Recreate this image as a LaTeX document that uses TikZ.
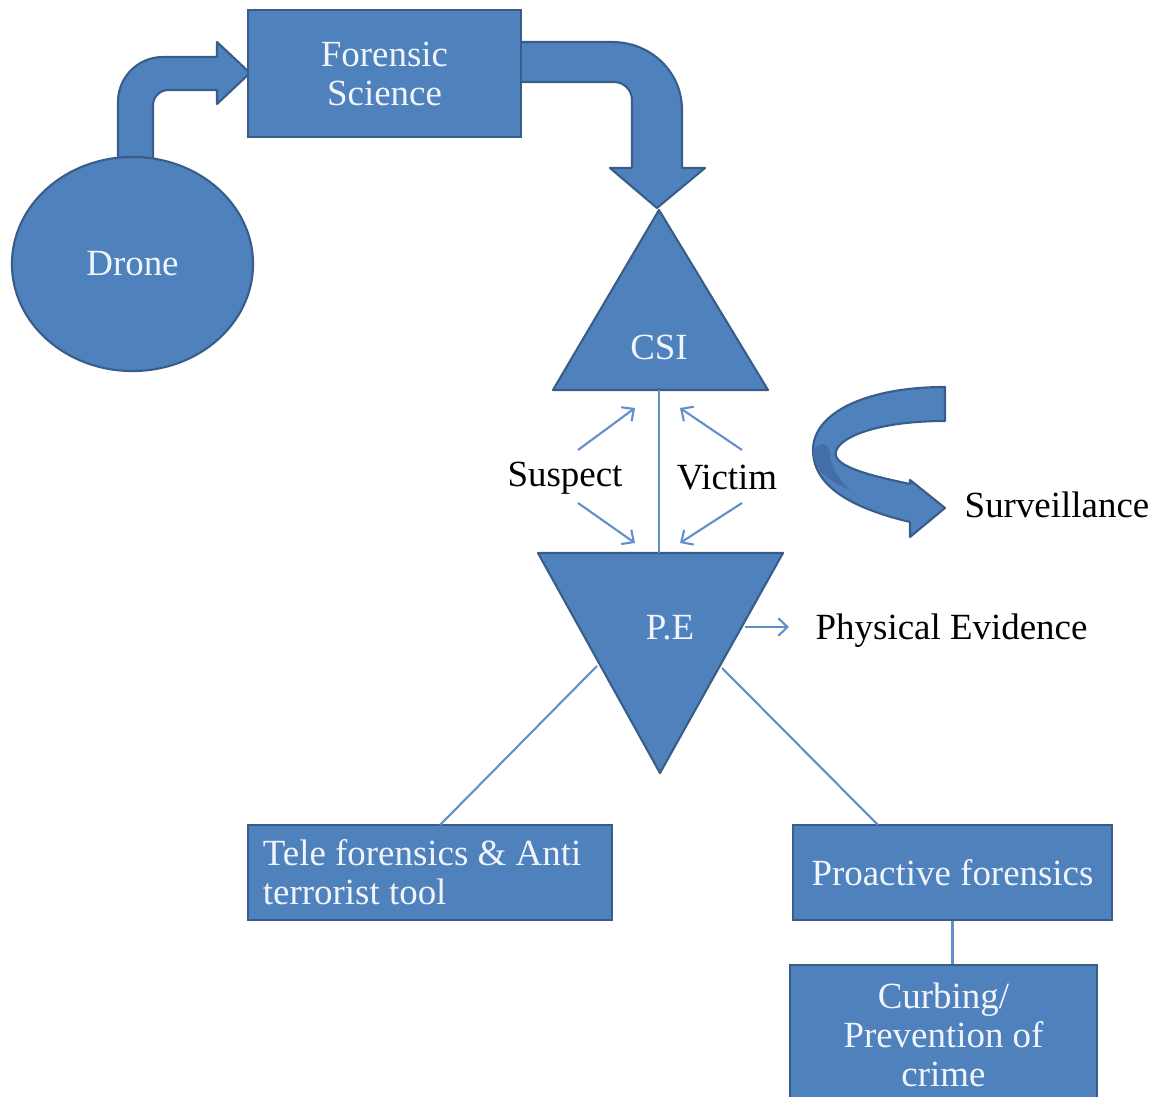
\documentclass[tikz,border=0pt]{standalone}
\usepackage{fontspec}
\setmainfont{Liberation Serif}
\usetikzlibrary{shapes.geometric,arrows.meta}
\definecolor{boxblue}{RGB}{79,129,189}
\definecolor{edgeblue}{RGB}{56,93,138}
\definecolor{shadeblue}{RGB}{66,111,168}
\definecolor{linkblue}{RGB}{98,143,204}
\definecolor{paletext}{RGB}{240,245,252}
\tikzset{
  wtext/.style={text=paletext, font=\fontsize{10.5}{11.1}\selectfont, inner sep=0pt},
  blk/.style={wtext, draw=edgeblue, fill=boxblue, line width=0.6pt},
  word/.style={text=black, font=\fontsize{10.5}{11.1}\selectfont, inner sep=0pt},
  link/.style={draw=linkblue, line width=0.6pt},
  tip/.style={-{Straight Barb[length=2.6pt,width=5pt]}},
  fat/.style={fill=boxblue, draw=edgeblue, line width=0.6pt, line join=round}
}
\begin{document}
\begin{tikzpicture}[x=0.01cm,y=-0.01cm]
\useasboundingbox (0,0) rectangle (1156,1097);
% bent arrows
\filldraw[fat] (118,160) -- (118,102) .. controls (118,77) and (138,57) .. (163,57) -- (217,57) -- (217,42) -- (250,73) -- (217,104) -- (217,90) -- (168,90) .. controls (160,90) and (153,97) .. (153,105) -- (153,160) -- cycle;
\filldraw[fat] (515,42) -- (612,42) .. controls (651,42) and (682,72) .. (682,110) -- (682,168) -- (705,168) -- (657,208) -- (610,168) -- (632,168) -- (632,100) .. controls (632,90) and (624,82) .. (614,82) -- (515,82) -- cycle;
\node[blk, ellipse, minimum width=2.41cm, minimum height=2.14cm] (drone) at (132.5,264) {Drone};
\node[blk, minimum width=2.73cm, minimum height=1.27cm, align=center] (fsci) at (384.5,73.5) {Forensic\\Science};
% triangles
\filldraw[fat] (659,210) -- (768,390) -- (553,390) -- cycle;
\node[wtext] (csi) at (659,347) {CSI};
\filldraw[fat] (538,553) -- (783,553) -- (660,773) -- cycle;
\node[wtext] (pe) at (670,628) {P.E};
\coordinate (csib) at (659,390);
\coordinate (pet) at (659,553);
\draw[link] (csib) -- (pet);
% suspect and victim
\node[word] (sus) at (565,478) {Suspect};
\node[word] (vic) at (727,478) {Victim};
\coordinate (sus-a) at (578,450); \coordinate (sus-b) at (635,408);
\coordinate (sus-c) at (578,503); \coordinate (sus-d) at (635,543);
\coordinate (vic-a) at (742,450); \coordinate (vic-b) at (680,408);
\coordinate (vic-c) at (742,503); \coordinate (vic-d) at (680,543);
\draw[link,tip] (sus-a) -- (sus-b);
\draw[link,tip] (sus-c) -- (sus-d);
\draw[link,tip] (vic-a) -- (vic-b);
\draw[link,tip] (vic-c) -- (vic-d);
% surveillance
\filldraw[fat] (945,387) .. controls (868,387) and (813,412) .. (813,450) .. controls (813,490) and (860,510) .. (910,522) -- (910,537) -- (945,508) -- (910,480) -- (910,484) .. controls (872,476) and (840,468) .. (836,456) .. controls (832,440) and (872,421) .. (945,421) -- cycle;
\fill[shadeblue] (813,450) .. controls (813,470) and (830,482) .. (850,490) .. controls (838,478) and (830,466) .. (830,452) .. controls (828,444) and (822,440) .. (813,450) -- cycle;
\node[word] (surv) at (1057,505) {Surveillance};
% physical evidence
\node[word, anchor=west] (phys) at (815,631) {Physical Evidence};
\coordinate (pe-r) at (745,627);
\coordinate (phys-l) at (789,627);
\draw[link,tip] (pe-r) -- (phys-l);
% lower boxes
\node[blk, minimum width=3.64cm, minimum height=0.95cm, text width=3.34cm, align=flush left] (tele) at (430,872.5) {Tele forensics \& Anti\\terrorist tool};
\node[blk, minimum width=3.19cm, minimum height=0.95cm] (proact) at (952.5,872.5) {Proactive forensics};
\node[blk, minimum width=3.07cm, minimum height=1.40cm, align=center] (curb) at (943.5,1035) {Curbing/\\Prevention of\\crime};
\coordinate (pe-l) at (597,666);
\coordinate (pe-rr) at (722,668);
\coordinate (tele-in) at (440,825);
\coordinate (proact-in) at (878,825);
\draw[link] (pe-l) -- (tele-in);
\draw[link] (pe-rr) -- (proact-in);
\draw[link] (proact.south) -- (proact.south |- curb.north);
\end{tikzpicture}
\end{document}
